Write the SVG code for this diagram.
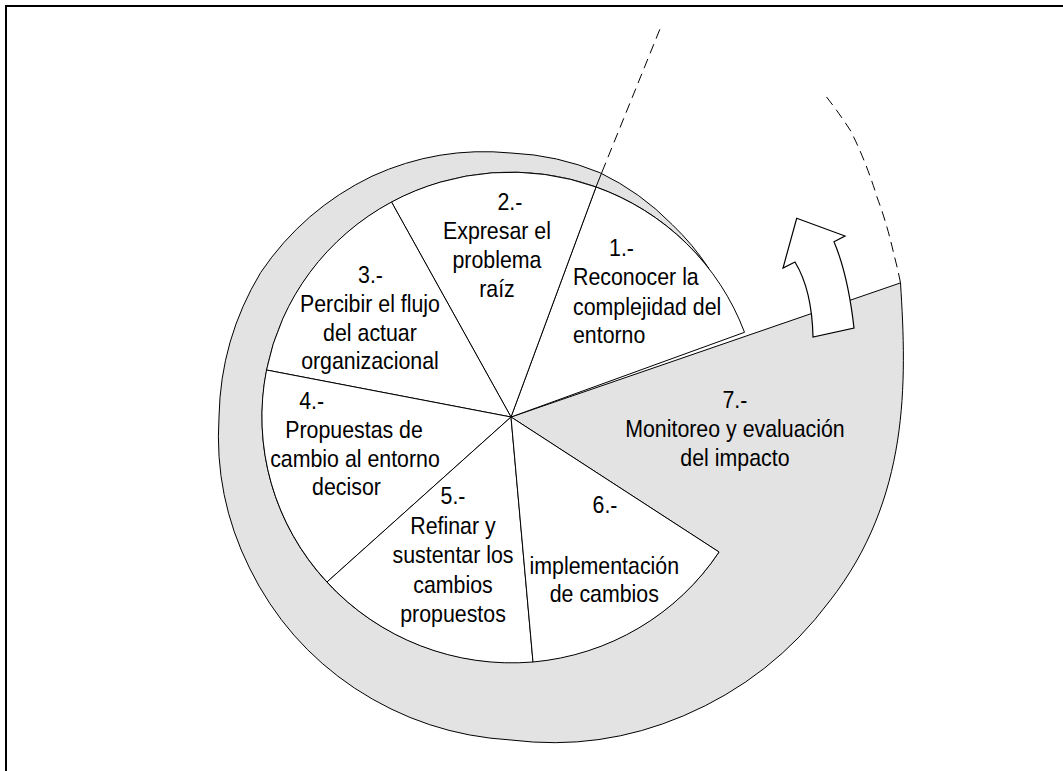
<svg xmlns="http://www.w3.org/2000/svg" width="1063" height="771" viewBox="0 0 1063 771">
  <style>
    .wedge { fill: #ffffff; stroke: #000000; stroke-width: 1; stroke-linejoin: round; }
    .band { fill: #e3e3e3; stroke: #000000; stroke-width: 1; stroke-linejoin: round; }
    .dash { fill: none; stroke: #000000; stroke-width: 1; stroke-dasharray: 10 6; }
    .solid { fill: none; stroke: #000000; stroke-width: 1; }
    .lbl { font-family: "Liberation Sans", Arial, sans-serif; font-size: 24px; fill: #000000; }
    .mid { text-anchor: middle; }
    .start { text-anchor: start; }
  </style>

  <rect width="1063" height="771" fill="#ffffff"/>

  <!-- frame -->
  <path d="M6,771 V6 H1063" fill="none" stroke="#000000" stroke-width="2"/>

  <!-- stage 7: spiral band that wraps the wheel and opens into the last wedge -->
  <g id="seg7-shape">
    <path class="band" d="M708.6,268.1
      A251,251 0 0 0 672.3,224.7
      A255,255 0 0 0 599.9,172.7
      A262,262 0 0 0 511,153
      A271,271 0 0 0 372,176.2
      A283,283 0 0 0 260.7,272.5
      A290,290 0 0 0 219,417
      A297,297 0 0 0 249.5,568
      A307,307 0 0 0 354.5,688.1
      A318,318 0 0 0 511,740
      A334,334 0 0 0 683.5,715.8
      A356,356 0 0 0 829.7,601
      C909.7,498.6 906.9,382.7 900.5,282.9
      L511,417 L719,552
      A249,245 0 1 1 708.6,268.1 Z"/>
  </g>

  <!-- wheel wedges, stages 1 to 6 -->
  <g id="seg1-shape"><path class="wedge" d="M511,417 L744.5,332.3 A249,245 0 0 0 596,187 Z"/></g>
  <g id="seg2-shape"><path class="wedge" d="M511,417 L596,187 A249,245 0 0 0 391.5,202 Z"/></g>
  <g id="seg3-shape"><path class="wedge" d="M511,417 L391.5,202 A249,245 0 0 0 266.5,370 Z"/></g>
  <g id="seg4-shape"><path class="wedge" d="M511,417 L266.5,370 A249,245 0 0 0 327,582 Z"/></g>
  <g id="seg5-shape"><path class="wedge" d="M511,417 L327,582 A249,245 0 0 0 533,662 Z"/></g>
  <g id="seg6-shape"><path class="wedge" d="M511,417 L533,662 A249,245 0 0 0 719,552 Z"/></g>

  <!-- guide lines and the turning arrow -->
  <g id="connectors">
    <path class="solid" d="M596,187 L602,172"/>
    <path class="dash" d="M602,172 L662,24"/>
    <path class="dash" d="M900.5,282.9 A414,414 0 0 0 893.9,254.5 A421,421 0 0 0 877,197.1 A435,435 0 0 0 851.1,131.6 A447,447 0 0 0 823.6,93.3"/>
    <path id="turn-arrow" fill="#ffffff" stroke="#000000" stroke-width="1.2" stroke-linejoin="miter"
          d="M796.7,218.3 L845,236 L834,241.7 Q848,275 854,328 L813,337 Q812,290 795,262 L783,268 Z"/>
  </g>

  <!-- labels (narrow face: horizontal scale 0.89) -->
  <g transform="scale(0.89 1)">
    <g id="seg1">
      <text class="lbl start" x="684.3" y="256">1.-</text>
      <text class="lbl start" x="643.8" y="285">Reconocer la</text>
      <text class="lbl start" x="643.8" y="315">complejidad del</text>
      <text class="lbl start" x="643.8" y="343">entorno</text>
    </g>
    <g id="seg2">
      <text class="lbl mid" x="573" y="210">2.-</text>
      <text class="lbl mid" x="558.4" y="239">Expresar el</text>
      <text class="lbl mid" x="558.4" y="268">problema</text>
      <text class="lbl mid" x="558.4" y="297">raíz</text>
    </g>
    <g id="seg3">
      <text class="lbl mid" x="416.3" y="283">3.-</text>
      <text class="lbl mid" x="415.7" y="312">Percibir el flujo</text>
      <text class="lbl mid" x="415.7" y="341">del actuar</text>
      <text class="lbl mid" x="415.7" y="369">organizacional</text>
    </g>
    <g id="seg4">
      <text class="lbl mid" x="350.2" y="409">4.-</text>
      <text class="lbl mid" x="397.8" y="438">Propuestas de</text>
      <text class="lbl mid" x="398.9" y="467">cambio al entorno</text>
      <text class="lbl mid" x="389.3" y="495">decisor</text>
    </g>
    <g id="seg5">
      <text class="lbl mid" x="509" y="504">5.-</text>
      <text class="lbl mid" x="509" y="534">Refinar y</text>
      <text class="lbl mid" x="509" y="563.5">sustentar los</text>
      <text class="lbl mid" x="509" y="593">cambios</text>
      <text class="lbl mid" x="509" y="622.5">propuestos</text>
    </g>
    <g id="seg6">
      <text class="lbl mid" x="679.8" y="513">6.-</text>
      <text class="lbl mid" x="679" y="574">implementación</text>
      <text class="lbl mid" x="679" y="602">de cambios</text>
    </g>
    <g id="seg7">
      <text class="lbl mid" x="825.8" y="408">7.-</text>
      <text class="lbl mid" x="825.8" y="437.5">Monitoreo y evaluación</text>
      <text class="lbl mid" x="825.8" y="466">del impacto</text>
    </g>
  </g>
</svg>
